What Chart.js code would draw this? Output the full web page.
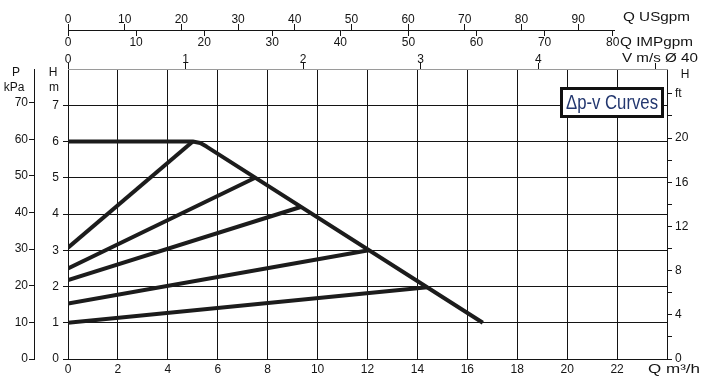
<!DOCTYPE html>
<html><head><meta charset="utf-8">
<script src="https://cdn.jsdelivr.net/npm/chart.js@4.4.0/dist/chart.umd.min.js"></script>
<style>html,body{margin:0;padding:0;background:#fff;}#wrap{width:705px;height:381px;}</style>
</head><body><div id="wrap"><canvas id="c" width="705" height="381"></canvas></div>
<script>
// ---- data (Q in m3/h, H in m) ----
const maxCurveQ = [0, 5.0, 5.3, 5.55, 16.62];
const maxCurveH = [6.0, 6.0, 5.96, 5.86, 1.0];
const dpvStartH = [3.07, 2.50, 2.18, 1.53, 1.00];
const dpvEndQ   = [5.0, 7.5, 9.35, 12.05, 14.4];
const dpvEndH   = [6.0, 5.0, 4.2, 3.0, 1.98];
// ---- axis conversions ----
const Q_MAX = 24, H_MAX = 8;
const US_PER_M3H = 4.403, IMP_PER_M3H = 3.666, M3H_PER_MS = 4.71;
const KPA_PER_M = 9.9, FT_PER_M = 3.2808;

const INK = '#141414';
const FONT = {family: "'Liberation Sans', Arial, Helvetica, sans-serif", size: 12};
const T = 'rgba(0,0,0,0)';

const datasets = [{
  data: maxCurveQ.map((q, i) => ({x: q, y: maxCurveH[i]}))
}].concat(dpvEndQ.map((q, i) => ({
  data: [{x: 0, y: dpvStartH[i]}, {x: q, y: dpvEndH[i]}]
}))).map(d => Object.assign(d, {
  showLine: true, borderColor: '#1c1c1c', borderWidth: 4, pointRadius: 0,
  borderJoinStyle: 'round', tension: 0, xAxisID: 'x', yAxisID: 'y'
}));

function fitText(c, text, x, y, width) {
  const w = c.measureText(text).width;
  c.save();
  c.translate(x, y);
  c.scale(width / w, 1);
  c.textAlign = 'left';
  c.fillText(text, 0, 0);
  c.restore();
}

const overlay = {
  id: 'overlay',
  afterDraw(chart) {
    const c = chart.ctx, a = chart.chartArea;
    const us = chart.scales.xUS;
    c.save();
    // USgpm / IMPgpm shared axis line
    c.strokeStyle = INK; c.lineWidth = 1;
    c.beginPath(); c.moveTo(a.left, us.bottom + 0.5); c.lineTo(615, us.bottom + 0.5); c.stroke();
    // axis titles
    c.fillStyle = INK; c.font = "12px 'Liberation Sans', Arial, sans-serif";
    c.textBaseline = 'middle'; c.textAlign = 'center';
    c.fillText('P', 16, 73); c.fillText('kPa', 14, 88);
    c.fillText('H', 53, 73); c.fillText('m', 54, 88);
    c.fillText('H', 685, 75);
    fitText(c, 'Q USgpm', 623, 18, 67);
    fitText(c, 'Q IMPgpm', 620, 43, 73);
    fitText(c, 'V m/s \u00D8 40', 622, 59, 76);
    fitText(c, 'Q m\u00B3/h', 648, 370, 52);
    // label box
    c.fillStyle = '#fff';
    c.fillRect(561, 88, 102, 29);
    c.strokeStyle = '#111'; c.lineWidth = 3;
    c.strokeRect(561.5, 88.5, 101, 28);
    c.fillStyle = '#23376f';
    c.font = "20px 'Liberation Sans', Arial, sans-serif";
    fitText(c, '\u0394p-v Curves', 566, 103, 92);
    c.restore();
  }
};

new Chart(document.getElementById('c'), {
  type: 'scatter',
  data: {datasets},
  options: {
    responsive: false, animation: false, devicePixelRatio: 1,
    layout: {padding: 0},
    plugins: {legend: {display: false}, tooltip: {enabled: false}},
    scales: {
      x: {
        type: 'linear', position: 'bottom', min: 0, max: Q_MAX,
        ticks: {stepSize: 2, autoSkip: false, maxRotation: 0, color: INK, font: FONT, padding: 3,
          callback: v => v <= 22 ? v : ''},
        grid: {color: INK, lineWidth: 1, drawTicks: false},
        border: {color: INK, width: 1},
        afterFit: s => { s.height = 22; }
      },
      y: {
        type: 'linear', position: 'left', weight: 1, min: 0, max: H_MAX,
        ticks: {stepSize: 1, autoSkip: false, color: INK, font: FONT, padding: 4,
          callback: v => v <= 7 ? v : ''},
        grid: {color: ctx => (ctx.tick && ctx.tick.value >= 8) ? T : INK, lineWidth: 1, tickLength: 5},
        border: {color: INK, width: 1},
        afterFit: s => { s.width = 34; }
      },
      yKPa: {
        type: 'linear', position: 'left', weight: 2, min: 0, max: H_MAX * KPA_PER_M,
        ticks: {stepSize: 10, includeBounds: false, autoSkip: false, color: INK, font: FONT, padding: 1},
        grid: {drawOnChartArea: false, color: INK, tickLength: 5},
        border: {color: INK, width: 1},
        afterFit: s => { s.width = 34; }
      },
      yFt: {
        type: 'linear', position: 'right', min: 0, max: H_MAX * FT_PER_M,
        ticks: {stepSize: 2, includeBounds: false, autoSkip: false, color: INK, font: FONT, padding: 3,
          callback: v => v === 24 ? 'ft' : ((v % 4 === 0 && v <= 20) ? v : '')},
        grid: {drawOnChartArea: false, tickLength: 5,
          color: ctx => (ctx.tick && ctx.tick.value > 24) ? T : INK},
        border: {color: INK, width: 1},
        afterFit: s => { s.width = 38; }
      },
      xUS: {
        type: 'linear', position: 'top', weight: 3, min: 0, max: Q_MAX * US_PER_M3H,
        ticks: {stepSize: 10, includeBounds: false, autoSkip: false, maxRotation: 0, color: INK, font: FONT, padding: -3,
          callback: v => v <= 90 ? v : ''},
        grid: {drawOnChartArea: false, tickLength: 6,
          color: ctx => (ctx.tick && ctx.tick.value > 90) ? T : INK},
        border: {display: false},
        afterFit: s => { s.height = 30; }
      },
      xIMP: {
        type: 'linear', position: 'top', weight: 2, min: 0, max: Q_MAX * IMP_PER_M3H,
        ticks: {stepSize: 10, includeBounds: false, autoSkip: false, maxRotation: 0, color: INK, font: FONT,
          mirror: true, padding: 5,
          callback: v => v <= 80 ? v : ''},
        grid: {drawOnChartArea: false, tickLength: -6,
          color: ctx => (ctx.tick && ctx.tick.value > 80) ? T : INK},
        border: {display: false},
        afterFit: s => { s.height = 0; }
      },
      xV: {
        type: 'linear', position: 'top', weight: 1, min: 0, max: Q_MAX / M3H_PER_MS,
        ticks: {stepSize: 1, includeBounds: false, autoSkip: false, maxRotation: 0, color: INK, font: FONT, padding: -4,
          callback: v => v <= 4 ? v : ''},
        grid: {drawOnChartArea: false, tickLength: 6, color: INK},
        border: {color: '#9a9a9a', width: 1},
        afterFit: s => { s.height = 39; }
      }
    }
  },
  plugins: [overlay]
});
</script>
</body></html>
